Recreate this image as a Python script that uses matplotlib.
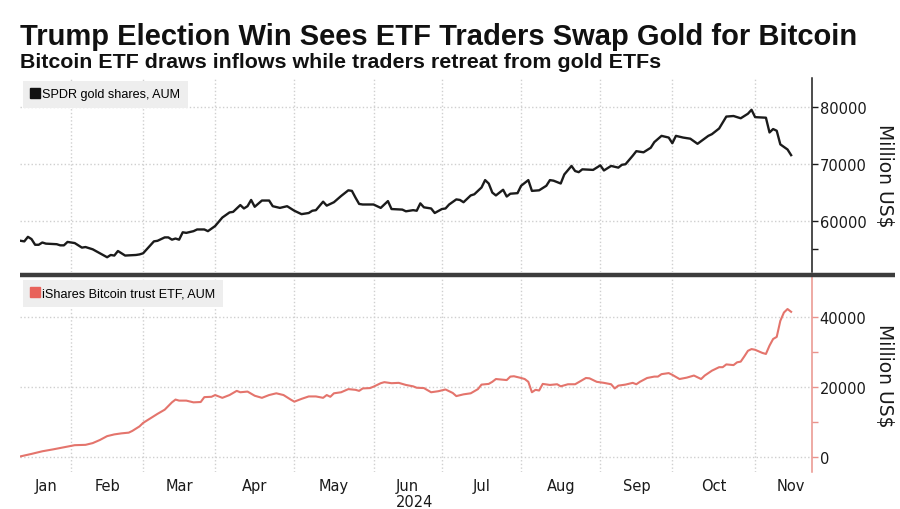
import numpy as np
import matplotlib
matplotlib.use("Agg")
import matplotlib.pyplot as plt
from matplotlib.lines import Line2D
from matplotlib.ticker import FixedLocator, StrMethodFormatter, NullFormatter
import matplotlib.transforms as mtransforms

# x axis is in trading sessions (no weekends / NYSE holidays), like the Bloomberg chart
START = "2024-01-11"
HOLIDAYS = ["2024-01-15", "2024-02-19", "2024-03-29", "2024-05-27",
            "2024-06-19", "2024-07-04", "2024-09-02", "2024-11-28"]

months = ["Jan", "Feb", "Mar", "Apr", "May", "Jun", "Jul", "Aug", "Sep", "Oct", "Nov"]
month_starts = ["2024-01-11", "2024-02-01", "2024-03-01", "2024-04-01", "2024-05-01",
                "2024-06-01", "2024-07-01", "2024-08-01", "2024-09-01", "2024-10-01",
                "2024-11-01", "2024-12-01"]

# SPDR gold shares, AUM (million US$)
gold_dates = ["01-11", "01-12", "01-16", "01-17", "01-18", "01-19", "01-22", "01-23", "01-26",
              "01-29", "01-30", "01-31", "02-02", "02-06", "02-07", "02-09", "02-13", "02-15",
              "02-16", "02-20", "02-21", "02-23", "02-28", "02-29", "03-01", "03-04", "03-06",
              "03-07", "03-11", "03-12", "03-13", "03-14", "03-15", "03-18", "03-19", "03-21",
              "03-22", "03-26", "03-27", "04-01", "04-03", "04-05", "04-08", "04-10", "04-11",
              "04-12", "04-15", "04-16", "04-18", "04-22", "04-23", "04-25", "04-29", "05-01",
              "05-03", "05-07", "05-08", "05-09", "05-13", "05-14", "05-16", "05-20", "05-22",
              "05-23", "05-24", "05-28", "05-29", "06-03", "06-05", "06-07", "06-10", "06-13",
              "06-14", "06-18", "06-20", "06-21", "06-24", "06-26", "06-27", "07-01", "07-02",
              "07-03", "07-08", "07-09", "07-10", "07-12", "07-15", "07-17", "07-18", "07-19",
              "07-22", "07-23", "07-25", "07-26", "07-29", "07-31", "08-01", "08-05", "08-06",
              "08-08", "08-12", "08-13", "08-14", "08-16", "08-19", "08-21", "08-22", "08-23",
              "08-26", "08-29", "09-03", "09-04", "09-06", "09-10", "09-11", "09-12", "09-16",
              "09-17", "09-19", "09-23", "09-24", "09-26", "09-30", "10-01", "10-02", "10-04",
              "10-08", "10-10", "10-15", "10-16", "10-18", "10-22", "10-24", "10-28", "10-30",
              "10-31", "11-01", "11-06", "11-07", "11-08", "11-11", "11-12", "11-14", "11-15"]
gold_aum = [56500, 56400, 57200, 56800, 55800, 55800, 56200, 56000, 55900,
            55700, 55700, 56300, 56100, 55300, 55400, 55000, 54300, 53600,
            54000, 53900, 54700, 53900, 54000, 54100, 54300, 55000, 56400,
            56500, 57100, 57100, 56700, 56900, 56700, 58000, 57900, 58200,
            58500, 58500, 58200, 59100, 60600, 61500, 61600, 62800, 62200,
            62600, 63700, 62500, 63600, 63600, 62600, 62300, 62600, 61800,
            61200, 61400, 61800, 61900, 63400, 62700, 63300, 64400, 65400,
            65300, 64100, 63000, 62900, 62900, 62300, 63500, 62100, 62000,
            61700, 61900, 61800, 63100, 62400, 62200, 61400, 62100, 62200,
            62900, 63800, 63700, 63300, 64500, 64700, 65900, 67200, 66600,
            65000, 64500, 65500, 64300, 64800, 64900, 66200, 67200, 65300,
            65400, 66200, 67200, 67100, 66600, 68200, 69700, 68800, 68600,
            69100, 69000, 69800, 68900, 69700, 69400, 69900, 70000, 71500,
            72300, 72100, 72900, 73900, 75000, 74700, 73700, 75000, 74700,
            74500, 73600, 75000, 75300, 76300, 78400, 78500, 78100, 78900,
            79600, 78300, 78200, 75600, 76200, 75900, 73500, 72600, 71600]

# iShares Bitcoin trust ETF, AUM (million US$)
btc_dates = ["01-11", "01-17", "01-22", "01-25", "01-30", "02-02", "02-07", "02-09", "02-13",
             "02-15", "02-20", "02-22", "02-26", "02-27", "02-29", "03-01", "03-05", "03-07",
             "03-11", "03-13", "03-14", "03-15", "03-19", "03-21", "03-25", "03-26", "03-28",
             "04-01", "04-03", "04-05", "04-09", "04-10", "04-12", "04-16", "04-18", "04-22",
             "04-24", "04-26", "04-30", "05-01", "05-03", "05-07", "05-09", "05-13", "05-14",
             "05-15", "05-16", "05-20", "05-22", "05-24", "05-28", "05-29", "05-31", "06-03",
             "06-05", "06-06", "06-10", "06-12", "06-14", "06-18", "06-20", "06-24", "06-26",
             "06-28", "07-02", "07-05", "07-08", "07-10", "07-12", "07-16", "07-17", "07-19",
             "07-22", "07-23", "07-25", "07-26", "07-29", "07-30", "08-01", "08-02", "08-05",
             "08-06", "08-07", "08-08", "08-09", "08-13", "08-15", "08-16", "08-20", "08-22",
             "08-23", "08-27", "08-28", "08-30", "09-04", "09-06", "09-09", "09-10", "09-12",
             "09-16", "09-17", "09-18", "09-20", "09-24", "09-25", "09-26", "09-30", "10-01",
             "10-03", "10-07", "10-09", "10-11", "10-14", "10-16", "10-18", "10-21", "10-22",
             "10-24", "10-25", "10-28", "10-29", "10-30", "10-31", "11-01", "11-05", "11-06",
             "11-07", "11-08", "11-11", "11-12", "11-13", "11-14", "11-15"]
btc_aum = [100, 800, 1550, 2100, 2700, 3300, 3400, 3900, 4800,
           5900, 6400, 6700, 6900, 7400, 8700, 9700, 11000, 12300,
           13500, 15600, 16400, 16100, 16100, 15600, 15700, 17100, 17200,
           17700, 16900, 17700, 18900, 18500, 18700, 17500, 16900, 17700,
           18200, 17700, 16400, 15800, 16600, 17300, 17300, 16900, 17700,
           17200, 18200, 18500, 19400, 19200, 18900, 19600, 19700, 20100,
           21100, 21400, 21100, 21200, 20600, 20200, 19800, 19700, 18500,
           18800, 19300, 18300, 17400, 17900, 18200, 19400, 20700, 20900,
           21500, 22300, 22100, 22000, 23000, 23100, 22600, 22300, 21500,
           18500, 19200, 19000, 20900, 20600, 20800, 20200, 20800, 20800,
           21400, 22600, 22500, 21500, 21200, 20800, 19600, 20400, 20700,
           21200, 20800, 21500, 22600, 23000, 23000, 23700, 24000, 23500,
           22300, 22700, 23300, 22300, 23300, 24700, 25700, 25700, 26500,
           26300, 27100, 27300, 28800, 30400, 30900, 30700, 29800, 29500,
           31900, 33800, 34400, 39000, 41400, 42400, 41600]


def session(dates):
    """Trading-session number counted from the first Bitcoin ETF day."""
    d = np.array(dates, dtype="datetime64[D]")
    return np.busday_count(np.datetime64(START), d, holidays=HOLIDAYS)


gold_x = session(["2024-" + d for d in gold_dates])
btc_x = session(["2024-" + d for d in btc_dates])
start_x = session(month_starts)
mid_x = (start_x[:-1] + start_x[1:]) / 2

GRID = "#cfcfcf"
BTC_RED = "#e4746c"
TEXT = "#1a1a1a"

fig = plt.figure(figsize=(9, 5.1), dpi=100)
W, H = 900, 510
ax_top = fig.add_axes([20 / W, 1 - 273 / H, 792 / W, 194 / H])
ax_bot = fig.add_axes([20 / W, 1 - 473 / H, 792 / W, 195 / H])

ax_top.plot(gold_x, gold_aum, color="#1b1b1b", linewidth=1.7, solid_joinstyle="round")
ax_bot.plot(btc_x, btc_aum, color=BTC_RED, linewidth=1.5, solid_joinstyle="round")

ax_top.set_ylim(51000, 85200)
ax_top.yaxis.set_major_locator(FixedLocator([60000, 70000, 80000]))
ax_top.yaxis.set_minor_locator(FixedLocator([55000]))
ax_bot.set_ylim(-4400, 51600)
ax_bot.yaxis.set_major_locator(FixedLocator([0, 20000, 40000]))
ax_bot.yaxis.set_minor_locator(FixedLocator([10000, 30000]))

for ax, spine_color in [(ax_top, "#1b1b1b"), (ax_bot, "#e9938c")]:
    ax.set_xlim(-0.2, 219.8)
    for side in ["top", "left", "bottom"]:
        ax.spines[side].set_visible(False)
    ax.spines["right"].set_color(spine_color)
    ax.spines["right"].set_linewidth(1.1)
    ax.yaxis.tick_right()
    ax.yaxis.set_major_formatter(StrMethodFormatter("{x:.0f}"))
    ax.tick_params(axis="y", which="major", length=4, width=1, color=spine_color,
                   labelsize=10.5, labelcolor=TEXT, pad=1.5)
    ax.tick_params(axis="y", which="minor", length=4, width=1, color=spine_color)
    # month boundaries carry the vertical grid, month centres carry the labels
    ax.set_xticks(start_x[1:-1], minor=True)
    ax.set_xticks(mid_x)
    ax.xaxis.set_minor_formatter(NullFormatter())
    ax.tick_params(axis="x", which="both", length=0)
    ax.grid(True, which="minor", axis="x", linestyle=":", color=GRID, linewidth=1)
    ax.grid(True, which="major", axis="y", linestyle=":", color=GRID, linewidth=1)
    ax.set_axisbelow(True)
    for lab in ax.get_yticklabels():
        lab.set_family("DejaVu Sans")

ax_top.set_xticklabels([])
ax_bot.set_xticklabels(months, fontsize=10.5, color=TEXT, family="DejaVu Sans")
ax_bot.tick_params(axis="x", which="major", pad=4)

# "2024" under the June label
year_tr = mtransforms.blended_transform_factory(ax_bot.transData, fig.transFigure)
ax_bot.text(mid_x[5] + 2, 1 - 503 / H, "2024", transform=year_tr, ha="center", va="center",
            fontsize=10.5, color=TEXT, family="DejaVu Sans")


def add_key(ax, label, color):
    handle = Line2D([], [], marker="s", linestyle="none", color=color, markersize=7)
    leg = ax.legend([handle], [label], loc="upper left", bbox_to_anchor=(0, 1),
                    borderaxespad=0.2, frameon=True, fancybox=False, framealpha=1,
                    facecolor="#eeeeee", edgecolor="none", handlelength=0.7,
                    handletextpad=0.25, borderpad=0.6,
                    prop={"family": "Liberation Sans", "size": 9.1})
    leg.get_frame().set_linewidth(0)
    return leg


add_key(ax_top, "SPDR gold shares, AUM", "#111111")
add_key(ax_bot, "iShares Bitcoin trust ETF, AUM", "#e8625a")

# axis titles on the right
for y_px in [176, 376]:
    fig.text(885 / W, 1 - y_px / H, "Million US$", rotation=270, ha="center", va="center",
             fontsize=13.5, color=TEXT, family="DejaVu Sans")

# heavy separator between the two panels
fig.add_artist(Line2D([20 / W, 895 / W], [1 - 275.5 / H, 1 - 275.5 / H],
                      color="#3c3c3c", linewidth=3.2, solid_capstyle="butt"))

fig.text(20 / W, 1 - 37 / H, "Trump Election Win Sees ETF Traders Swap Gold for Bitcoin",
         ha="left", va="center", fontsize=21, fontweight="bold", color="#111111",
         family="Liberation Sans")
fig.text(20 / W, 1 - 62 / H, "Bitcoin ETF draws inflows while traders retreat from gold ETFs",
         ha="left", va="center", fontsize=15.4, fontweight="bold", color="#111111",
         family="Liberation Sans")

fig.savefig("out.png", dpi=100, facecolor="white")
